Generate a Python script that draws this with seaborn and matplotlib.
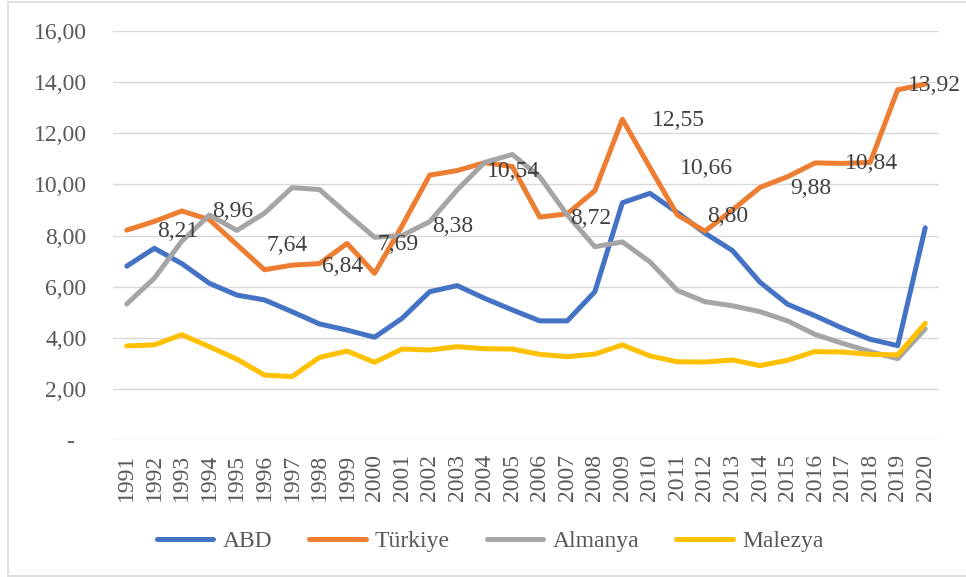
import matplotlib
matplotlib.use("Agg")
import matplotlib.pyplot as plt
from matplotlib.lines import Line2D
import seaborn as sns
import pandas as pd

years = list(range(1991, 2021))

abd = [6.80, 7.50, 6.90, 6.13, 5.67, 5.48, 5.02, 4.54, 4.30, 4.02,
       4.76, 5.80, 6.04, 5.54, 5.09, 4.66, 4.66, 5.80, 9.28, 9.65,
       8.90, 8.09, 7.41, 6.17, 5.31, 4.86, 4.37, 3.94, 3.69, 8.30]

turkiye = [8.21, 8.55, 8.96, 8.62, 7.64, 6.66, 6.84, 6.90, 7.69, 6.52,
           8.38, 10.36, 10.54, 10.85, 10.70, 8.72, 8.85, 9.75, 12.55, 10.66,
           8.80, 8.17, 9.00, 9.88, 10.30, 10.84, 10.82, 10.86, 13.70, 13.92]

almanya = [5.32, 6.33, 7.78, 8.80, 8.20, 8.87, 9.87, 9.80, 8.85, 7.93,
           8.00, 8.54, 9.78, 10.86, 11.17, 10.30, 8.80, 7.56, 7.75, 6.97,
           5.85, 5.41, 5.25, 5.02, 4.66, 4.13, 3.78, 3.46, 3.18, 4.35]

malezya = [3.68, 3.72, 4.12, 3.65, 3.16, 2.54, 2.48, 3.23, 3.48, 3.04,
           3.56, 3.52, 3.65, 3.57, 3.56, 3.35, 3.26, 3.36, 3.72, 3.29,
           3.06, 3.05, 3.13, 2.91, 3.12, 3.46, 3.44, 3.35, 3.33, 4.56]

series_names = ["ABD", "Türkiye", "Almanya", "Malezya"]
series_colors = ["#4472C4", "#ED7D31", "#A5A5A5", "#FFC000"]

# Türkiye values that carry a data label
labeled_years = [1991, 1993, 1995, 1997, 1999, 2001, 2003, 2006, 2009,
                 2010, 2011, 2014, 2016, 2020]

y_ticks = [0, 2, 4, 6, 8, 10, 12, 14, 16]
y_tick_labels = ["-  ", "2,00", "4,00", "6,00", "8,00", "10,00", "12,00",
                 "14,00", "16,00"]

sns.set_theme(style="white")
plt.rcParams["font.family"] = ["Liberation Serif", "DejaVu Serif"]

FS = 17

df = pd.DataFrame({"Yıl": [str(y) for y in years] * 4,
                   "Değer": abd + turkiye + almanya + malezya,
                   "Ülke": sum([[n] * len(years) for n in series_names], [])})

W, H = 966, 577
fig = plt.figure(figsize=(W / 100, H / 100), dpi=100)
ax = fig.add_axes([113 / W, (H - 440) / H, (939 - 113) / W, (440 - 31) / H])

ax.set_axisbelow(True)
ax.yaxis.grid(True, color="#D9D9D9", linewidth=1.0)

sns.lineplot(data=df, x="Yıl", y="Değer", hue="Ülke",
             palette=dict(zip(series_names, series_colors)),
             linewidth=3.6, sort=False, ax=ax, legend=False)
for ln in ax.lines:
    ln.set_solid_capstyle("round")
    ln.set_solid_joinstyle("round")

ax.set_xlim(-0.5, len(years) - 0.5)
ax.set_ylim(0, 16)
ax.set_yticks(y_ticks)
ax.set_yticklabels(y_tick_labels)
ax.set_xticks(range(len(years)))
ax.set_xticklabels([str(y) for y in years], rotation=90)
ax.tick_params(axis="y", length=0, pad=19, labelsize=FS, labelcolor="#595959")
ax.tick_params(axis="x", length=0, pad=10, labelsize=FS, labelcolor="#595959")
ax.set_xlabel("")
ax.set_ylabel("")
for s in ax.spines.values():
    s.set_visible(False)

# data labels for Türkiye
for yr in labeled_years:
    i = years.index(yr)
    v = turkiye[i]
    dx = -17 if yr == years[-1] else 30
    ax.annotate(f"{v:.2f}".replace(".", ","), xy=(i, v),
                xytext=(dx, -1), textcoords="offset pixels",
                ha="left", va="center", fontsize=FS, color="#404040",
                zorder=10, annotation_clip=False)

handles = [Line2D([0], [0], color=c, linewidth=3.6, solid_capstyle="round")
           for c in series_colors]
fig.legend(handles, series_names, loc="center",
           bbox_to_anchor=(490 / W, 1 - 541 / H),
           ncol=4, frameon=False, fontsize=FS, handlelength=2.4,
           handletextpad=0.4, columnspacing=1.55, labelcolor="#595959")

# outer chart border
border = dict(color="#D9D9D9", linewidth=1.2, transform=fig.transFigure)
fig.add_artist(Line2D([8 / W, 8 / W], [1 - 2 / H, 1 - 576 / H], **border))
fig.add_artist(Line2D([8 / W, 1], [1 - 2 / H, 1 - 2 / H], **border))
fig.add_artist(Line2D([8 / W, 1], [1 - 576 / H, 1 - 576 / H], **border))

fig.savefig("out.png", dpi=100, facecolor="white")
